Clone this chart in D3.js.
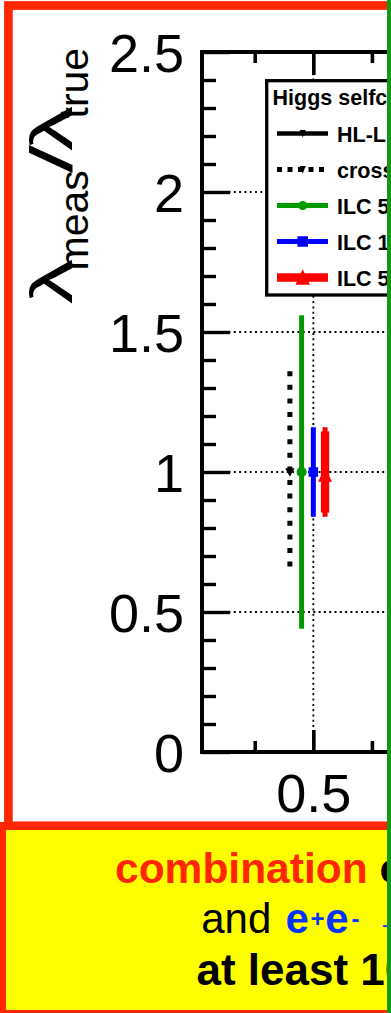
<!DOCTYPE html>
<html>
<head>
<meta charset="utf-8">
<script src="https://cdn.jsdelivr.net/npm/d3@7"></script>
<style>
  html, body { margin: 0; padding: 0; background: #fff; }
  svg { display: block; font-family: "Liberation Sans", Arial, Helvetica, sans-serif; }
</style>
</head>
<body>
<svg id="chart" width="391" height="1013"></svg>
<script>
// ---- data ---------------------------------------------------------------
const yTickValues = [0, 0.5, 1, 1.5, 2, 2.5];
const yMinorValues = [0.1, 0.2, 0.3, 0.4, 0.6, 0.7, 0.8, 0.9, 1.1, 1.2, 1.3, 1.4,
                      1.6, 1.7, 1.8, 1.9, 2.1, 2.2, 2.3, 2.4];
const xTickValues = [0.5];
const xMinorValues = [0.4, 0.6, 0.7, 0.8, 0.9];
const gridY = [0.5, 1, 1.5, 2];
const gridX = [0.5];

const legendTitle = "Higgs selfc";
const legendLabels = ["HL-L", "cross", "ILC 5", "ILC 1", "ILC 5"];

// measured points (legend entries 2..5): position, value, errors
const pointX = [0.46, 0.48, 0.50, 0.52];
const pointValue = [1, 1, 1, 1];
const pointErrHi = [0.36, 0.56, 0.16, 0.16];
const pointErrLo = [0.36, 0.56, 0.16, 0.16];
const redInnerErr = 0.145;

// ---- styles -------------------------------------------------------------
const RED = "#ff2600", BLUE = "#0433ff", GREEN = "#009a00", YELLOW = "#ffff00";
const entryStyle = [
  { color: "#000", width: 4.3, dash: null, marker: "down", lw: 6, lh: 7.5 },
  { color: "#000", width: 5, dash: "5 5.5", marker: "down", lw: 6, lh: 7.5 },
  { color: GREEN, width: 5, dash: null, marker: "circle", lr: 4.6 },
  { color: "#0000ff", width: 5, dash: null, marker: "square", ls: 10.5 },
  { color: "#ff0000", width: 8.3, dash: null, marker: "up", lw: 14.5, lh: 15.5 }
];

const svg = d3.select("#chart");
const W = 391, H = 1013;
svg.append("rect").attr("width", W).attr("height", H).attr("fill", "#fff");

// slide frame around the plot
svg.append("rect")
  .attr("x", 8.4).attr("y", 5.5).attr("width", 1000).attr("height", 820.3)
  .attr("fill", "none").attr("stroke", RED).attr("stroke-width", 8.7);

// ---- scales ---------------------------------------------------------------
const x = d3.scaleLinear().domain([0.31, 1.5]).range([202, 899.3]);
const y = d3.scaleLinear().domain([0, 2.5]).range([752, 52]);

const plot = svg.append("g");

// dotted grid
plot.append("g").selectAll("line").data(gridY).join("line")
  .attr("x1", x(0.31)).attr("x2", W).attr("y1", d => y(d)).attr("y2", d => y(d))
  .attr("stroke", "#000").attr("stroke-width", 1.8).attr("stroke-dasharray", "2 3.3");
plot.append("g").selectAll("line").data(gridX).join("line")
  .attr("x1", d => x(d)).attr("x2", d => x(d)).attr("y1", y(2.5)).attr("y2", y(0))
  .attr("stroke", "#000").attr("stroke-width", 1.8).attr("stroke-dasharray", "2 3.3");

// inward ticks on all visible sides
function ticks(axis, transform, width) {
  const g = plot.append("g").attr("transform", transform).call(axis.tickFormat(""));
  g.select(".domain").remove();
  g.selectAll("line").attr("stroke", "#000").attr("stroke-width", width);
  g.selectAll("text").remove();
}
ticks(d3.axisRight(y).tickValues(yTickValues).tickSize(28), `translate(${x(0.31)},0)`, 3.4);
ticks(d3.axisRight(y).tickValues(yMinorValues).tickSize(14), `translate(${x(0.31)},0)`, 3.4);
ticks(d3.axisTop(x).tickValues(xTickValues).tickSize(22), `translate(0,${y(0)})`, 3.6);
ticks(d3.axisTop(x).tickValues(xMinorValues).tickSize(11), `translate(0,${y(0)})`, 3.6);
ticks(d3.axisBottom(x).tickValues(xTickValues).tickSize(23), `translate(0,${y(2.5)})`, 3.6);
ticks(d3.axisBottom(x).tickValues(xMinorValues).tickSize(11), `translate(0,${y(2.5)})`, 3.6);

// frame
plot.append("rect")
  .attr("x", x(0.31)).attr("y", y(2.5)).attr("width", 1000).attr("height", y(0) - y(2.5))
  .attr("fill", "none").attr("stroke", "#000").attr("stroke-width", 4);

// tick labels
const yLab = plot.append("g").attr("transform", `translate(${x(0.31)},0)`)
  .call(d3.axisLeft(y).tickValues(yTickValues).tickSize(0).tickPadding(18).tickFormat(d3.format("")));
yLab.select(".domain").remove();
yLab.attr("font-family", null).attr("font-size", null);
yLab.selectAll("text").attr("font-size", 54).attr("fill", "#000").attr("dy", "0.36em");

const xLab = plot.append("g").attr("transform", `translate(0,${y(0)})`)
  .call(d3.axisBottom(x).tickValues(xTickValues).tickSize(0).tickPadding(21.5).tickFormat(d3.format("")));
xLab.select(".domain").remove();
xLab.attr("font-family", null).attr("font-size", null);
xLab.selectAll("text").attr("font-size", 54).attr("fill", "#000");

// y title: lambda_meas / lambda_true
const yt = svg.append("g").attr("transform", "translate(72,0) rotate(-90)").attr("fill", "#000");
yt.append("text").attr("x", -304).attr("y", 0).attr("font-size", 60)
  .attr("textLength", 45).attr("lengthAdjust", "spacingAndGlyphs").text("λ");
yt.append("text").attr("x", -270.5).attr("y", 15.5).attr("font-size", 41).text("meas");
yt.append("text").attr("x", -173).attr("y", 0).attr("font-size", 60)
  .attr("textLength", 28).attr("lengthAdjust", "spacingAndGlyphs").text("/");
yt.append("text").attr("x", -151).attr("y", 0).attr("font-size", 60)
  .attr("textLength", 45).attr("lengthAdjust", "spacingAndGlyphs").text("λ");
yt.append("text").attr("x", -118.5).attr("y", 15.5).attr("font-size", 41).text("true");

// ---- markers ----------------------------------------------------------------
function marker(g, type, cx, cy, s, color) {
  if (type === "circle") {
    g.append("circle").attr("cx", cx).attr("cy", cy).attr("r", s.r).attr("fill", color);
  } else if (type === "square") {
    g.append("rect").attr("x", cx - s.a / 2).attr("y", cy - s.a / 2)
      .attr("width", s.a).attr("height", s.a).attr("fill", color);
  } else if (type === "down") {
    g.append("path").attr("fill", color)
      .attr("d", `M${cx - s.w / 2},${cy - s.top}L${cx + s.w / 2},${cy - s.top}L${cx},${cy + s.bot}Z`);
  } else if (type === "up") {
    g.append("path").attr("fill", color)
      .attr("d", `M${cx},${cy - s.top}L${cx + s.w / 2},${cy + s.bot}L${cx - s.w / 2},${cy + s.bot}Z`);
  }
}

// ---- data points ------------------------------------------------------------
const pts = plot.append("g");
const pointMarkerSize = [
  { w: 9.4, top: 3.8, bot: 4.8 },
  { r: 5.1 },
  { a: 9.5 },
  { w: 14, top: 4.2, bot: 9.8 }
];
pointX.forEach((px, i) => {
  const st = entryStyle[i + 1];
  const cx = x(px);
  const bar = pts.append("line")
    .attr("x1", cx).attr("x2", cx)
    .attr("y1", y(pointValue[i] + pointErrHi[i])).attr("y2", y(pointValue[i] - pointErrLo[i]))
    .attr("stroke", st.color).attr("stroke-width", i === 3 ? 5 : st.width);
  if (st.dash) bar.attr("stroke-dasharray", "5 8.6");
  if (i === 3) {
    pts.append("line")
      .attr("x1", cx).attr("x2", cx)
      .attr("y1", y(pointValue[i] + redInnerErr)).attr("y2", y(pointValue[i] - redInnerErr))
      .attr("stroke", st.color).attr("stroke-width", st.width);
  }
  marker(pts, st.marker, cx, y(pointValue[i]), pointMarkerSize[i], st.color);
});

// ---- legend -------------------------------------------------------------------
const leg = svg.append("g");
leg.append("rect").attr("x", 266.7).attr("y", 80.7).attr("width", 1000).attr("height", 214.3)
  .attr("fill", "#fff").attr("stroke", "#000").attr("stroke-width", 3.3);
leg.append("text").attr("x", 272.6).attr("y", 105).attr("font-size", 21.5)
  .attr("font-weight", "bold").attr("fill", "#000").text(legendTitle);
legendLabels.forEach((lab, i) => {
  const st = entryStyle[i];
  const ry = 133.5 + 36 * i;
  const ln = leg.append("line").attr("x1", 277).attr("x2", 328).attr("y1", ry).attr("y2", ry)
    .attr("stroke", st.color).attr("stroke-width", st.width);
  if (st.dash) ln.attr("stroke-dasharray", st.dash);
  let s;
  if (st.marker === "circle") s = { r: st.lr };
  else if (st.marker === "square") s = { a: st.ls };
  else if (st.marker === "down") s = { w: st.lw, top: 3.5, bot: 4 };
  else s = { w: st.lw, top: 8.2, bot: 7.3 };
  marker(leg, st.marker, 302.7, ry, s, st.color);
  leg.append("text").attr("x", 337).attr("y", ry + 8.2).attr("font-size", 21.5)
    .attr("font-weight", "bold").attr("fill", "#000").text(lab);
});

// ---- summary box ----------------------------------------------------------------
svg.append("rect").attr("x", 2).attr("y", 826).attr("width", 1000).attr("height", 188)
  .attr("fill", YELLOW).attr("stroke", RED).attr("stroke-width", 8);

const t1 = svg.append("text").attr("x", 115).attr("y", 883).attr("font-size", 42.5).attr("font-weight", "bold");
t1.append("tspan").attr("fill", RED).text("combination");
t1.append("tspan").attr("fill", "#000").text(" o");

const t2 = svg.append("text").attr("y", 933).attr("font-size", 42);
t2.append("tspan").attr("x", 201.2).attr("fill", "#000").text("and ");
t2.append("tspan").attr("x", 285.4).attr("fill", BLUE).attr("font-weight", "bold").text("e");
t2.append("tspan").attr("x", 310.5).attr("y", 927).attr("font-size", 24).attr("fill", BLUE).attr("font-weight", "bold").text("+");
t2.append("tspan").attr("x", 325.3).attr("y", 933).attr("fill", BLUE).attr("font-weight", "bold").text("e");
t2.append("tspan").attr("x", 351.5).attr("y", 927).attr("font-size", 24).attr("fill", BLUE).attr("font-weight", "bold").text("-");
t2.append("tspan").attr("x", 374).attr("y", 933).attr("fill", BLUE).attr("font-weight", "bold").text("→");

svg.append("text").attr("x", 196.5).attr("y", 985).attr("font-size", 44).attr("font-weight", "bold")
  .attr("fill", "#000").text("at least 10");

// green divider on the right edge
svg.append("rect").attr("x", 387).attr("y", 0).attr("width", 4).attr("height", H).attr("fill", "#139a13");
</script>
</body>
</html>
